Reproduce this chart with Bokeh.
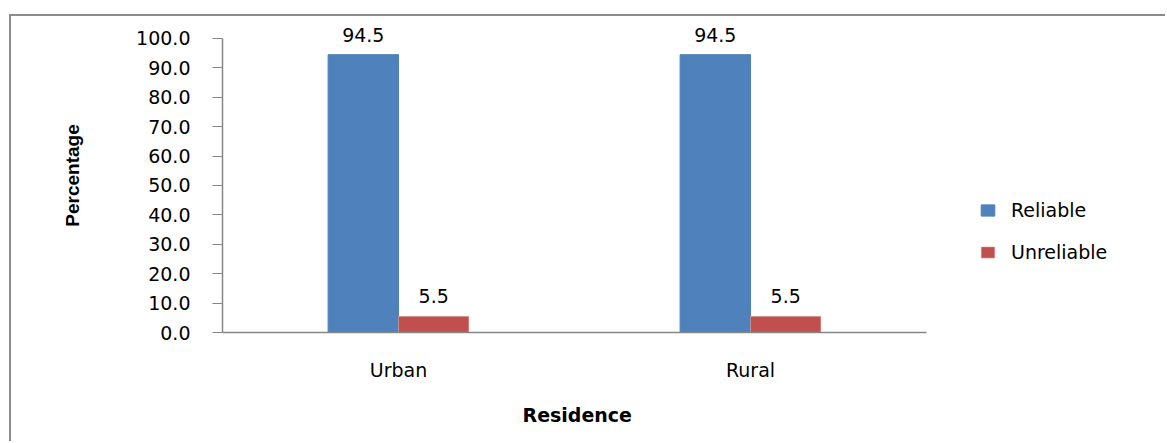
from bokeh.plotting import figure
from bokeh.models import (ColumnDataSource, Range1d, LabelSet, Legend, FixedTicker, Title,
                          LegendItem, SingleIntervalTicker, NumeralTickFormatter)
from bokeh.core.properties import value
from bokeh.transform import dodge
from bokeh.embed import file_html
from bokeh.resources import INLINE

# ---- data ----
residence = ["Urban", "Rural"]
reliable = [94.5, 94.5]
unreliable = [5.5, 5.5]
series_names = ["Reliable", "Unreliable"]
x_title = "Residence"
y_title = "Percentage"

BLUE = "#4F81BD"
RED = "#C0504D"
AXIS = "#868686"
FONT = "DejaVu Sans"

# category slots: each category occupies one unit on the x scale
slot = [i + 0.5 for i in range(len(residence))]

src = ColumnDataSource(dict(
    xc=slot,
    rel=reliable,
    unrel=unreliable,
    rel_txt=[f"{v:.1f}" for v in reliable],
    unrel_txt=[f"{v:.1f}" for v in unreliable],
))

W, H = 1156, 427
MB_L, MB_R = 211, 2
cat_px = 352  # pixel width of one category slot
x_end = (W - MB_L - MB_R) / cat_px

p = figure(width=W, height=H, x_range=Range1d(0, x_end),
           y_range=Range1d(0, 106.8), output_backend="svg", toolbar_location=None,
           min_border_left=MB_L, min_border_right=MB_R, min_border_top=2, min_border_bottom=111)
p.margin = (16, 0, 0, 11)
p.styles = {"box-shadow": "-2px -2px 0 0 #8C8C8C"}

r1 = p.vbar(x=dodge("xc", -0.1), top="rel", width=0.2, source=src,
            fill_color=BLUE, line_color=BLUE)
r2 = p.vbar(x=dodge("xc", 0.1), top="unrel", width=0.2, source=src,
            fill_color=RED, line_color="#E6B9B8", line_width=0.5)

p.add_layout(LabelSet(x=dodge("xc", -0.1), y="rel", text="rel_txt", source=src,
                      y_offset=13, text_align="center", text_baseline="alphabetic",
                      text_font=value(FONT), text_font_size="19px", text_color="black"))
p.add_layout(LabelSet(x=dodge("xc", 0.1), y="unrel", text="unrel_txt", source=src,
                      y_offset=13, text_align="center", text_baseline="alphabetic",
                      text_font=value(FONT), text_font_size="19px", text_color="black"))

# grid / outline
p.xgrid.visible = False
p.ygrid.visible = False
p.outline_line_color = None
p.background_fill_color = "white"
p.border_fill_color = "white"

# y axis
p.yaxis.bounds = (0, 100)
p.yaxis.ticker = SingleIntervalTicker(interval=10)
p.yaxis.formatter = NumeralTickFormatter(format="0.0")
p.yaxis.minor_tick_line_color = None
p.yaxis.major_tick_out = 10
p.yaxis.major_tick_in = 0
p.yaxis.major_label_standoff = 22
p.yaxis.axis_line_color = AXIS
p.yaxis.axis_line_width = 1.5
p.yaxis.major_tick_line_color = AXIS
p.yaxis.major_label_text_font = FONT
p.yaxis.major_label_text_font_size = "19px"
p.yaxis.major_label_text_color = "black"
p.yaxis.axis_label = y_title
p.yaxis.axis_label_text_font = "Liberation Sans"
p.yaxis.axis_label_text_font_style = "bold"
p.yaxis.axis_label_text_font_size = "19px"
p.yaxis.axis_label_text_color = "black"
p.yaxis.axis_label_standoff = 50

# x axis (categorical labels on the category slots)
p.xaxis.bounds = (0, len(residence))
p.xaxis.ticker = FixedTicker(ticks=slot)
p.xaxis.major_label_overrides = {s: name for s, name in zip(slot, residence)}
p.xaxis.major_tick_out = 0
p.xaxis.major_tick_in = 0
p.xaxis.minor_tick_line_color = None
p.xaxis.axis_line_color = AXIS
p.xaxis.axis_line_width = 1.5
p.xaxis.major_label_standoff = 26
p.xaxis.major_label_text_font = FONT
p.xaxis.major_label_text_font_size = "19px"
p.xaxis.major_label_text_color = "black"

# x axis title, centred under the category span (not the whole frame)
p.add_layout(Title(text=x_title, align="left", offset=300, standoff=36,
                   text_font=FONT, text_font_style="bold", text_font_size="19px",
                   text_color="black"), "below")

# legend
legend = Legend(items=[LegendItem(label=series_names[0], renderers=[r1]),
                       LegendItem(label=series_names[1], renderers=[r2])],
                location=(757, 69), orientation="vertical",
                glyph_width=17, glyph_height=14, label_standoff=15, spacing=20,
                label_height=20, padding=0, margin=0,
                border_line_color=None, background_fill_alpha=0,
                label_text_font=FONT, label_text_font_size="19px", label_text_color="black")
p.add_layout(legend, "center")

open("out.html", "w").write(file_html(p, INLINE))
